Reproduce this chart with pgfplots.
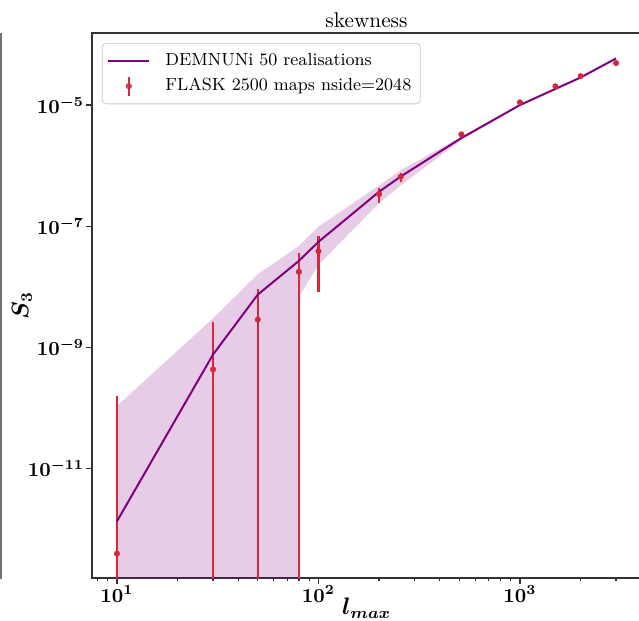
\documentclass[border=0pt]{standalone}
\usepackage{pgfplots}
\pgfplotsset{compat=1.18}
\definecolor{flask}{RGB}{214,40,60}
\definecolor{demn}{RGB}{128,0,128}

\begin{document}
\begin{tikzpicture}
\useasboundingbox (-46bp,-21.5bp) rectangle (273.5bp,289bp);
% edge of the neighbouring panel
\draw[black!55, line width=0.8bp] (-45.4bp,-0.3bp) -- (-45.4bp,272.5bp);
\begin{axis}[
  at={(0,0)}, anchor=south west,
  scale only axis, width=274.5bp, height=272.5bp,
  xmode=log, ymode=log,
  xmin=7.52, xmax=3990, ymin=1.54e-13, ymax=1.55e-4,
  xtick={10,100,1000},
  minor xtick={8,9,20,30,40,50,60,70,80,90,200,300,400,500,600,700,800,900,2000,3000},
  ytick={1e-11,1e-9,1e-7,1e-5},
  yminorticks=false,
  tick align=outside, tick pos=left,
  major tick length=2.8bp, minor tick length=1.7bp,
  tick style={black!80, line width=0.6bp},
  axis line style={black!80, line width=0.6bp},
  tick label style={font=\fontsize{10}{12}\selectfont\boldmath, inner sep=1bp},
  title={skewness},
  title style={at={(axis description cs:0.5,1.0106)}, anchor=base, yshift=-6pt,
    font=\fontsize{10.7}{13}\selectfont, inner sep=0pt},
  xlabel={$l_{max}$},
  xlabel style={at={(axis description cs:0.5,-0.067)}, anchor=base,
    font=\fontsize{11.5}{13}\selectfont\boldmath, inner sep=0pt},
  ylabel={$S_3$},
  ylabel style={at={(axis description cs:-0.116,0.5)}, anchor=base,
    font=\fontsize{11.5}{13}\selectfont\boldmath, inner sep=0pt},
  legend cell align=left,
  legend style={at={(axis description cs:0.018,0.982)}, anchor=north west,
    font=\fontsize{8.8}{10.5}\selectfont, draw=black!20, fill=white,
    fill opacity=0.8, text opacity=1, rounded corners=2bp,
    inner xsep=2.5bp, inner ysep=3bp, row sep=1bp,
    /tikz/every odd column/.append style={column sep=5.5bp}},
]
% spread of the 50 realisations
\addplot[draw=none, fill=demn, fill opacity=0.2, forget plot] coordinates {
  (10,1.07e-10) (30,3.0e-9) (50,1.6e-8) (80,4.7e-8) (100,9.8e-8) (200,4.7e-7)
  (256,8.4e-7) (512,3.0e-6) (1000,1.02e-5) (1500,1.87e-5) (2000,2.88e-5) (3000,5.95e-5)
  (3000,5.85e-5) (2000,2.82e-5) (1500,1.83e-5) (1000,9.8e-6) (512,2.65e-6) (256,4.7e-7)
  (200,2.4e-7) (100,2.3e-8) (80,6.8e-9) (80,1e-14) (50,1e-14) (30,1e-14) (10,1e-14)
};
% FLASK error bars
\addplot[flask, line width=1.1bp, forget plot] coordinates {(10,1e-14) (10,1.55e-10)};
\addplot[flask, line width=1.1bp, forget plot] coordinates {(30,1e-14) (30,2.57e-9)};
\addplot[flask, line width=1.1bp, forget plot] coordinates {(50,1e-14) (50,9.2e-9)};
\addplot[flask, line width=1.1bp, forget plot] coordinates {(80,1e-14) (80,3.6e-8)};
\addplot[flask, line width=1.1bp, forget plot] coordinates {(100,8.2e-9) (100,6.84e-8)};
\addplot[flask, line width=1.1bp, forget plot] coordinates {(200,2.37e-7) (200,4.3e-7)};
\addplot[flask, line width=1.1bp, forget plot] coordinates {(256,5.27e-7) (256,7.6e-7)};
% DEMNUNi mean
\addplot[demn, line width=1bp,
  legend image code/.code={\draw[demn, line width=1bp] (0bp,0bp) -- (20.5bp,0bp);}]
  coordinates {
  (10,1.33e-12) (30,7.6e-10) (50,7.4e-9) (80,2.67e-8) (100,5.5e-8) (200,3.7e-7)
  (256,6.6e-7) (512,2.85e-6) (1000,1.0e-5) (1500,1.85e-5) (2000,2.85e-5) (3000,5.9e-5)
};
\addlegendentry{DEMNUNi 50 realisations}
% FLASK means
\addplot[only marks, mark=*, mark size=1.3bp, flask,
  legend image code/.code={\draw[flask, line width=1.1bp] (10.25bp,-4.75bp) -- (10.25bp,4.75bp);
    \fill[flask] (10.25bp,0bp) circle (1.3bp);}]
  coordinates {
  (10,3.9e-13) (30,4.3e-10) (50,2.86e-9) (80,1.76e-8) (100,3.86e-8) (200,3.38e-7)
  (256,6.53e-7) (512,3.28e-6) (1000,1.11e-5) (1500,2.04e-5) (2000,3.0e-5) (3000,4.94e-5)
};
\addlegendentry{FLASK 2500 maps nside=2048}
\end{axis}
\end{tikzpicture}
\end{document}
